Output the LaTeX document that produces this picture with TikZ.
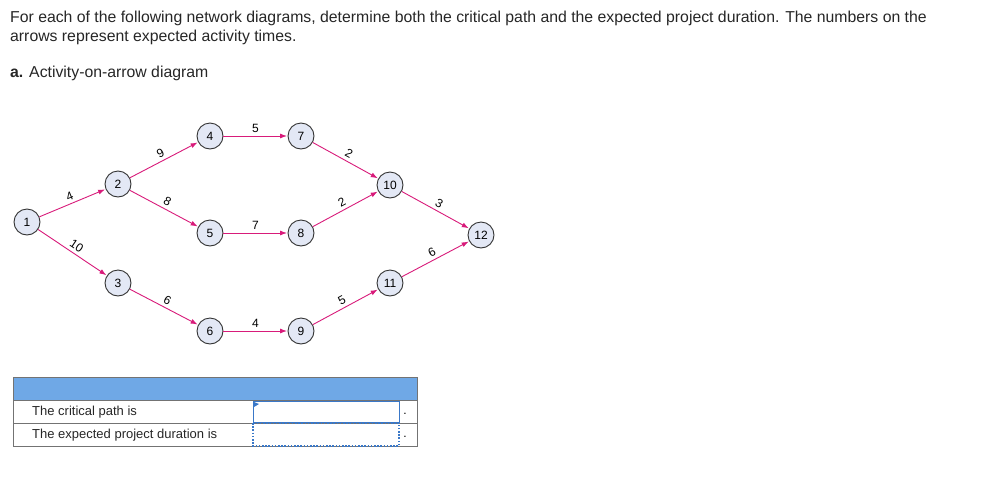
\documentclass[tikz,border=0pt]{standalone}
\usepackage{fontspec}
\setmainfont{Liberation Sans}
\usetikzlibrary{arrows.meta}
\definecolor{arr}{HTML}{D81B7A}
\definecolor{nodefill}{HTML}{E3E8F5}
\definecolor{hdr}{HTML}{6FA8E6}
\definecolor{inp}{HTML}{3A78C8}
\begin{document}
\begin{tikzpicture}[x=1pt,y=-1pt,
  ev/.style={circle,draw=black!80,line width=0.9pt,fill=nodefill,minimum size=26pt,inner sep=0pt,font=\fontsize{12}{14}\selectfont},
  act/.style={draw=arr,line width=0.9pt,-{Latex[length=7pt,width=5pt]},shorten >=0.5pt},
  lab/.style={font=\fontsize{12}{14}\selectfont,sloped,above,pos=0.5,inner sep=3pt},
  txt/.style={anchor=west,inner sep=0pt,font=\fontsize{15.8}{18}\selectfont,text=black!85}]
\useasboundingbox (0,0) rectangle (981,501);
\node[txt] (t1) at (10,18) {For each of the following network diagrams, determine both the critical path and the expected project duration. The numbers on the};
\node[txt] (t2) at (10,37) {arrows represent expected activity times.};
\node[txt] (t3) at (10,73) {\textbf{a.} Activity-on-arrow diagram};
\node[ev] (n1) at (27,222) {1};
\node[ev] (n2) at (118,184) {2};
\node[ev] (n3) at (118,283) {3};
\node[ev] (n4) at (210,136) {4};
\node[ev] (n5) at (210,233) {5};
\node[ev] (n6) at (210,331) {6};
\node[ev] (n7) at (301,136) {7};
\node[ev] (n8) at (301,233) {8};
\node[ev] (n9) at (301,331) {9};
\node[ev] (n10) at (390,185) {10};
\node[ev] (n11) at (390,283) {11};
\node[ev] (n12) at (481,235) {12};
\draw[act] (n1) -- node[lab]{4} (n2);
\draw[act] (n1) -- node[lab]{10} (n3);
\draw[act] (n2) -- node[lab]{9} (n4);
\draw[act] (n2) -- node[lab]{8} (n5);
\draw[act] (n3) -- node[lab]{6} (n6);
\draw[act] (n4) -- node[lab]{5} (n7);
\draw[act] (n5) -- node[lab]{7} (n8);
\draw[act] (n6) -- node[lab]{4} (n9);
\draw[act] (n7) -- node[lab]{2} (n10);
\draw[act] (n8) -- node[lab]{2} (n10);
\draw[act] (n9) -- node[lab]{5} (n11);
\draw[act] (n10) -- node[lab]{3} (n12);
\draw[act] (n11) -- node[lab]{6} (n12);
% table
\fill[hdr] (13,377) rectangle (417,400);
\draw[black!55,line width=0.9pt] (13,377) rectangle (417,446);
\draw[black!55,line width=0.9pt] (13,400) -- (417,400) (13,423) -- (417,423);
\node[txt,font=\fontsize{13}{15}\selectfont] (r1) at (32,412) {The critical path is};
\node[txt,font=\fontsize{13}{15}\selectfont] (r2) at (32,435) {The expected project duration is};
\draw[inp,line width=1pt] (253,401) rectangle (399,422);
\draw[inp,line width=1.6pt,dash pattern=on 1.6pt off 1.6pt] (253,423) rectangle (399,446);
\fill[inp] (254,402) -- (259,404) -- (254,407) -- cycle;
\node[font=\fontsize{12}{14}\selectfont,inner sep=0pt] (d1) at (405,414) {.};
\node[font=\fontsize{12}{14}\selectfont,inner sep=0pt] (d2) at (405,437) {.};
\end{tikzpicture}
\end{document}
